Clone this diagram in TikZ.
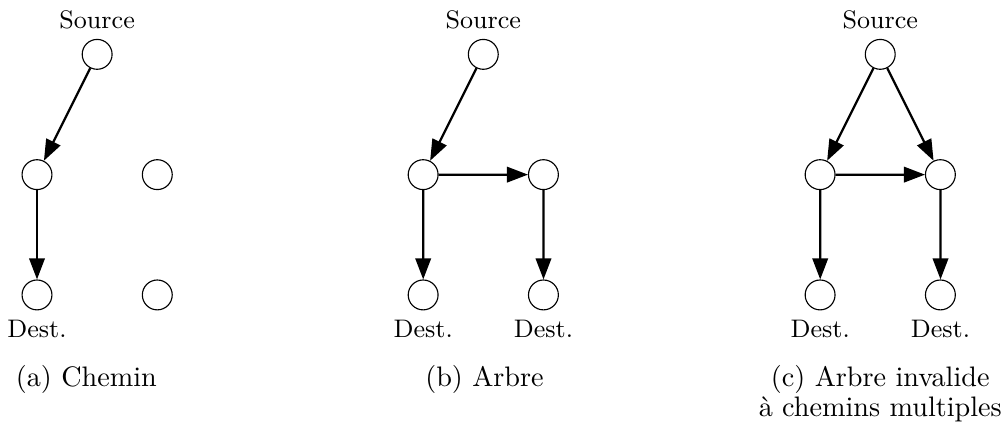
\documentclass[tikz,border=0pt]{standalone}
\usetikzlibrary{arrows.meta}
\begin{document}
\begin{tikzpicture}[scale=1.5,
  sommet/.style={draw,circle,minimum size=10.6pt,inner sep=0pt},
  fleche/.style={thick,-{Triangle[length=7.5pt,width=5.5pt]}},
  etiq/.style={font=\small},
  legende/.style={anchor=base}]

\useasboundingbox (-0.3076,-1.122) rectangle (8.072,2.452);

% (a) Chemin
\node [sommet,label={[etiq]above:Source}] (sa) at (0.5,2){};
\node [sommet] (ga) at (0,1){};
\node [sommet] (da) at (1,1){};
\node [sommet,label={[etiq]below:Dest.}] (bga) at (0,0){};
\node [sommet] (bda) at (1,0){};

\draw[fleche] (sa)--(ga);
\draw[fleche] (ga)--(bga);

\node [legende] (capa) at (0.41,-0.765){(a) Chemin};

% (b) Arbre
\node [sommet,label={[etiq]above:Source}] (sb) at (3.71,2){};
\node [sommet] (gb) at (3.21,1){};
\node [sommet] (db) at (4.21,1){};
\node [sommet,label={[etiq]below:Dest.}] (bgb) at (3.21,0){};
\node [sommet,label={[etiq]below:Dest.}] (bdb) at (4.21,0){};

\draw[fleche] (sb)--(gb);
\draw[fleche] (gb)--(db);
\draw[fleche] (gb)--(bgb);
\draw[fleche] (db)--(bdb);

\node [legende] (capb) at (3.72,-0.765){(b) Arbre};

% (c) Arbre invalide
\node [sommet,label={[etiq]above:Source}] (sc) at (7.01,2){};
\node [sommet] (gc) at (6.51,1){};
\node [sommet] (dc) at (7.51,1){};
\node [sommet,label={[etiq]below:Dest.}] (bgc) at (6.51,0){};
\node [sommet,label={[etiq]below:Dest.}] (bdc) at (7.51,0){};

\draw[fleche] (sc)--(gc);
\draw[fleche] (sc)--(dc);
\draw[fleche] (gc)--(dc);
\draw[fleche] (gc)--(bgc);
\draw[fleche] (dc)--(bdc);

\node [legende] (capc) at (7.01,-0.765){(c) Arbre invalide};
\node [legende] (capc2) at (7.01,-1.014){à chemins multiples};

\end{tikzpicture}
\end{document}
